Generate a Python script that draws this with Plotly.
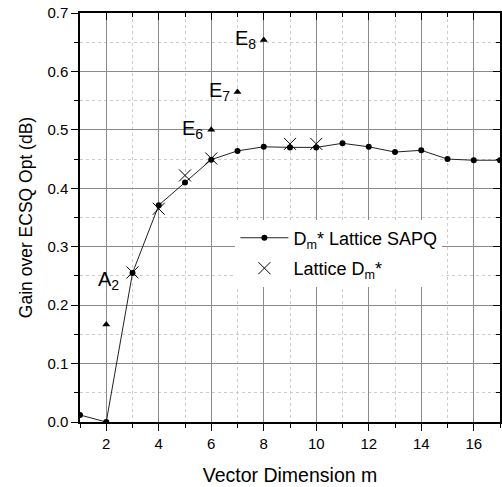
import plotly.graph_objects as go

# ---- data ----
m_sapq = [1, 2, 3, 4, 5, 6, 7, 8, 9, 10, 11, 12, 13, 14, 15, 16, 17]
gain_sapq = [0.012, 0.0, 0.255, 0.371, 0.410, 0.449, 0.464, 0.471, 0.470, 0.470,
             0.477, 0.471, 0.462, 0.465, 0.450, 0.448, 0.448]

m_lattice = [3, 4, 5, 6, 9, 10]
gain_lattice = [0.256, 0.365, 0.422, 0.451, 0.476, 0.476]

m_special = [2, 6, 7, 8]
gain_special = [0.167, 0.500, 0.565, 0.654]
special_labels = ["A<sub>2</sub>", "E<sub>6</sub>", "E<sub>7</sub>", "E<sub>8</sub>"]

x_range = [1, 17]
y_range = [0, 0.7]

FONT = "Arial, Liberation Sans, sans-serif"

fig = go.Figure()

fig.add_trace(go.Scatter(
    x=m_sapq, y=gain_sapq, mode="lines+markers",
    name="D<sub>m</sub>* Lattice SAPQ", legendgroup="a",
    line=dict(color="#222222", width=1),
    marker=dict(color="#000000", size=6, symbol="circle"),
))
fig.add_trace(go.Scatter(
    x=m_lattice, y=gain_lattice, mode="markers",
    name="Lattice D<sub>m</sub>*", legendgroup="b",
    marker=dict(symbol="x-thin-open", size=12, color="#000000",
                line=dict(color="#000000", width=1)),
))
fig.add_trace(go.Scatter(
    x=m_special, y=gain_special, mode="markers", showlegend=False,
    marker=dict(symbol="triangle-up", size=7, color="#000000"),
))
# invisible trace to carry the top/right mirror axes
fig.add_trace(go.Scatter(
    x=x_range, y=y_range, xaxis="x2", yaxis="y2", mode="markers",
    marker=dict(opacity=0), showlegend=False, hoverinfo="skip",
))

# labels for special lattices
for xv, yv, lab in zip(m_special, gain_special, special_labels):
    if lab.startswith("A"):
        fig.add_annotation(x=xv, y=0.243, xref="x", yref="y", text=lab,
                           showarrow=False, xanchor="center", yanchor="middle",
                           xshift=2, yshift=0,
                           font=dict(family=FONT, size=20, color="#000000"))
    else:
        fig.add_annotation(x=xv, y=yv, xref="x", yref="y", text=lab,
                           showarrow=False, xanchor="right", yanchor="middle",
                           xshift=-6, yshift=0,
                           font=dict(family=FONT, size=20, color="#000000"))

axis_common = dict(
    showline=True, linecolor="#000000", linewidth=1.5,
    tickfont=dict(family=FONT, size=15, color="#000000"),
    zeroline=False, automargin=False,
)

fig.update_layout(
    width=502, height=487,
    margin=dict(l=80, r=2, t=13, b=65),
    paper_bgcolor="#ffffff", plot_bgcolor="#ffffff",
    font=dict(family=FONT, color="#000000"),
    xaxis=dict(
        range=x_range, tick0=0, dtick=2,
        ticks="outside", ticklen=7, tickcolor="#000000", tickwidth=1.2,
        showgrid=True, gridcolor="#8a8a8a", gridwidth=1,
        minor=dict(dtick=1, tick0=0, ticks="outside", ticklen=4, tickcolor="#000000",
                   showgrid=True, gridcolor="#cccccc", griddash="dot", gridwidth=1),
        title=dict(text="Vector Dimension m", font=dict(family=FONT, size=19.5), standoff=18),
        **axis_common,
    ),
    yaxis=dict(
        range=y_range, tick0=0, dtick=0.1, tickformat=".1f",
        ticks="outside", ticklen=7, tickcolor="#000000", tickwidth=1.2,
        showgrid=True, gridcolor="#8a8a8a", gridwidth=1,
        minor=dict(dtick=0.05, tick0=0, ticks="outside", ticklen=4, tickcolor="#000000",
                   showgrid=True, gridcolor="#cccccc", griddash="dot", gridwidth=1),
        title=dict(text="Gain over ECSQ Opt (dB)", font=dict(family=FONT, size=17.5), standoff=10),
        **axis_common,
    ),
    xaxis2=dict(
        overlaying="x", side="top", range=x_range, tick0=0, dtick=2,
        showticklabels=False, ticks="inside", ticklen=7, tickcolor="#000000",
        showgrid=False, showline=True, linecolor="#000000", linewidth=1.5,
        minor=dict(dtick=1, tick0=0, ticks="inside", ticklen=4, tickcolor="#000000", showgrid=False),
        zeroline=False, automargin=False,
    ),
    yaxis2=dict(
        overlaying="y", side="right", range=y_range, tick0=0, dtick=0.1,
        showticklabels=False, ticks="inside", ticklen=7, tickcolor="#000000",
        showgrid=False, showline=True, linecolor="#000000", linewidth=1.5,
        minor=dict(dtick=0.05, tick0=0, ticks="inside", ticklen=4, tickcolor="#000000", showgrid=False),
        zeroline=False, automargin=False,
    ),
    legend=dict(
        x=0.37, y=0.495, xanchor="left", yanchor="top",
        bgcolor="#ffffff", borderwidth=0,
        font=dict(family=FONT, size=18, color="#000000"),
        tracegroupgap=4, itemwidth=48,
    ),
    showlegend=True,
)

fig.write_html("out.html", post_script="document.body.style.margin='0';",
               config={"displayModeBar": False})
